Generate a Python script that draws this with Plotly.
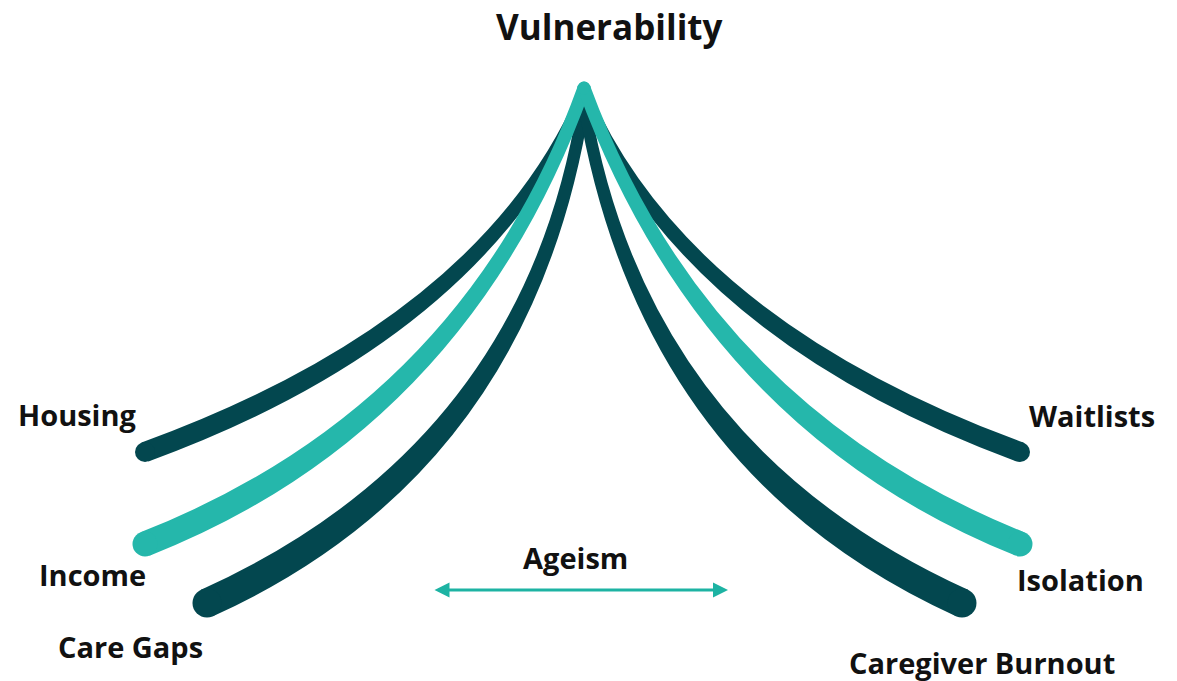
import numpy as np
import plotly.graph_objects as go

# ---- data ----
title_text = "Vulnerability"
labels = ["Housing", "Income", "Care Gaps", "Waitlists", "Isolation", "Caregiver Burnout"]
side = ["left", "left", "left", "right", "right", "right"]
tier = ["outer", "middle", "inner", "outer", "middle", "inner"]
# curve geometry (canvas units, y grows downward)
end_x = [145, 145, 207, 1020, 1020, 962]
end_y = [452, 544, 603, 452, 544, 603]
ctrl_x = [482, 465, 528, 686, 706, 643]
ctrl_y = [329, 418, 458, 329, 418, 458]
peak_x = [584, 584, 584, 584, 584, 584]
peak_y = [94, 88, 104, 94, 88, 104]
axis_label = "Ageism"
axis_from_x, axis_to_x, axis_y = 433, 728, 590

# ---- styles / layout ----
DARK = "#03474f"
TEAL = "#25b7ab"
ARROW = "#1db3a3"
tier_color = {"outer": DARK, "middle": TEAL, "inner": DARK}
tier_w_end = {"outer": 20, "middle": 25, "inner": 29}
tier_w_peak = {"outer": 12, "middle": 13, "inner": 12}
draw_order = {"outer": 0, "inner": 1, "middle": 2}
label_pos = {
    "Housing": (77, 414),
    "Income": (92, 574),
    "Care Gaps": (130, 646),
    "Waitlists": (1092, 415),
    "Isolation": (1080, 579),
    "Caregiver Burnout": (982, 662),
}
W, H = 1177, 681
FONT = "Open Sans"


def fmt(p):
    return f"{p[0]:.2f},{p[1]:.2f}"


def tapered(p0, c, p2, w0, w2):
    d0 = c - p0
    d0 = d0 / np.linalg.norm(d0)
    d2 = p2 - c
    d2 = d2 / np.linalg.norm(d2)
    n0 = np.array([-d0[1], d0[0]])
    n2 = np.array([-d2[1], d2[0]])
    sides = []
    for s in (1, -1):
        a0 = p0 + s * n0 * w0 / 2
        a2 = p2 + s * n2 * w2 / 2
        M = np.column_stack([d0, d2])
        k = np.linalg.solve(M, a2 - a0)
        ac = a0 + k[0] * d0
        sides.append((a0, ac, a2))
    (a0, ac, a2), (b0, bc, b2) = sides
    return f"M {fmt(a0)} Q {fmt(ac)} {fmt(a2)} L {fmt(b2)} Q {fmt(bc)} {fmt(b0)} Z"


fig = go.Figure()
fig.add_trace(go.Scatter(x=[0, W], y=[0, H], mode="markers",
                         marker=dict(opacity=0), hoverinfo="skip", showlegend=False))

shapes = []
idx = sorted(range(len(labels)), key=lambda i: draw_order[tier[i]])
for i in idx:
    col = tier_color[tier[i]]
    w0, w2 = tier_w_end[tier[i]], tier_w_peak[tier[i]]
    p0 = np.array([end_x[i], end_y[i]], float)
    c = np.array([ctrl_x[i], ctrl_y[i]], float)
    p2 = np.array([peak_x[i], peak_y[i]], float)
    shapes.append(dict(type="path", xref="x", yref="y", path=tapered(p0, c, p2, w0, w2),
                       fillcolor=col, line=dict(width=0), layer="above"))
    for (pt, w) in ((p0, w0), (p2, w2)):
        shapes.append(dict(type="circle", xref="x", yref="y",
                           x0=pt[0] - w / 2, x1=pt[0] + w / 2,
                           y0=pt[1] - w / 2, y1=pt[1] + w / 2,
                           fillcolor=col, line=dict(width=0), layer="above"))

annotations = []
annotations.append(dict(x=609, y=26, xref="x", yref="y", text=title_text, showarrow=False,
                        font=dict(family=FONT, size=35, color="#111111", weight=700),
                        xanchor="center", yanchor="middle"))
for lab in labels:
    lx, ly = label_pos[lab]
    annotations.append(dict(x=lx, y=ly, xref="x", yref="y", text=lab, showarrow=False,
                            font=dict(family=FONT, size=29, color="#111111", weight=700),
                            xanchor="center", yanchor="middle"))
annotations.append(dict(x=575, y=557, xref="x", yref="y", text=axis_label, showarrow=False,
                        font=dict(family=FONT, size=29, color="#111111", weight=700),
                        xanchor="center", yanchor="middle"))
annotations.append(dict(x=axis_to_x, y=axis_y, ax=axis_from_x, ay=axis_y,
                        xref="x", yref="y", axref="x", ayref="y", text="",
                        showarrow=True, arrowhead=2, arrowside="end+start",
                        arrowsize=1.0, arrowwidth=3, arrowcolor=ARROW, standoff=0, startstandoff=0))

fig.update_layout(
    width=W, height=H, margin=dict(l=0, r=0, t=0, b=0),
    paper_bgcolor="white", plot_bgcolor="white",
    xaxis=dict(range=[0, W], visible=False, fixedrange=True),
    yaxis=dict(range=[H, 0], visible=False, fixedrange=True),
    shapes=shapes, annotations=annotations, showlegend=False,
)

fig.write_html("out.html", config={"displayModeBar": False},
               post_script="document.body.style.margin='0';document.body.style.overflow='hidden';")
